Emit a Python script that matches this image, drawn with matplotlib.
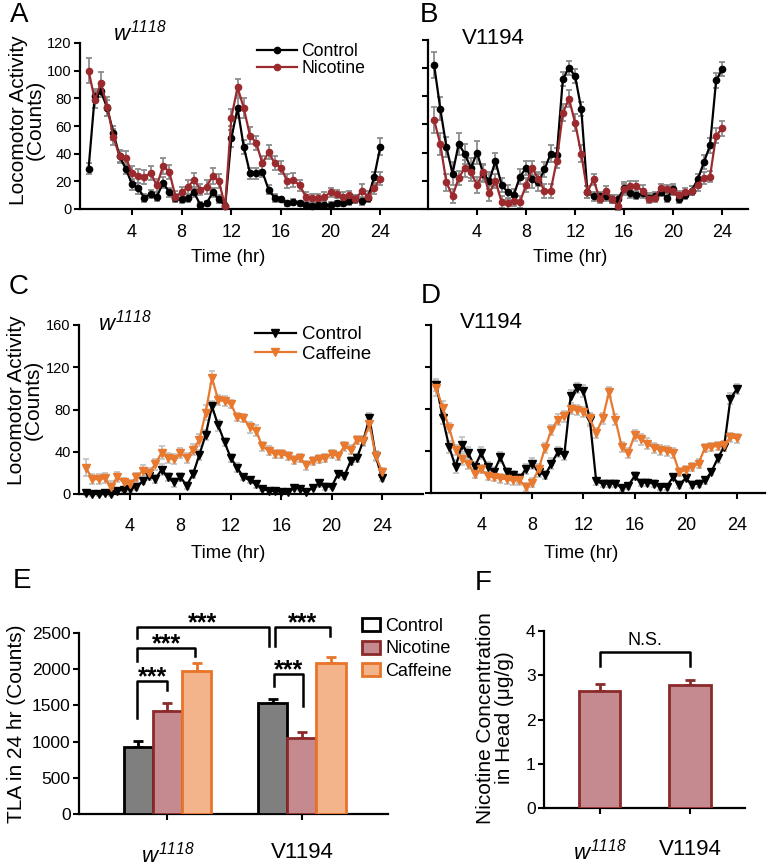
import numpy as np
import matplotlib
matplotlib.use("Agg")
import matplotlib.pyplot as plt
from matplotlib.patches import Patch
from matplotlib.lines import Line2D

plt.rcParams['font.family'] = ['Liberation Sans', 'DejaVu Sans']
plt.rcParams['mathtext.fontset'] = 'custom'
# digits in mathtext are drawn with "rm", so make it italic too for w^1118
plt.rcParams['mathtext.rm'] = 'Liberation Sans:italic'
plt.rcParams['mathtext.it'] = 'Liberation Sans:italic'

# ---- data: locomotor activity, half-hour bins ----
hours = np.arange(0.5, 24.5, 0.5)

a_ctrl = [29, 82, 85, 73, 55, 38, 29, 18, 15, 8, 11, 9, 19, 12, 8, 7, 8, 12, 3, 4,
          12, 7, 2, 51, 73, 45, 26, 26, 27, 14, 8, 7, 4, 5, 4, 3, 2, 3, 3, 3,
          4, 4, 6, 7, 6, 8, 23, 45]
a_ctrl_err = [4, 5, 4, 6, 5, 4, 4, 4, 4, 3, 3, 3, 4, 3, 3, 3, 3, 3, 2, 2,
              3, 3, 2, 6, 7, 5, 4, 4, 4, 3, 3, 2, 2, 2, 2, 2, 2, 2, 2, 2,
              2, 2, 3, 3, 3, 3, 4, 6]
a_nic = [100, 79, 91, 74, 52, 38, 37, 26, 24, 23, 26, 17, 31, 27, 9, 12, 16, 21, 14, 16,
         24, 20, 2, 66, 88, 73, 53, 48, 33, 41, 33, 30, 20, 21, 17, 9, 8, 8, 9, 12,
         11, 9, 10, 7, 13, 9, 15, 22]
a_nic_err = [9, 6, 8, 7, 6, 5, 5, 5, 5, 5, 5, 5, 6, 5, 4, 4, 5, 5, 4, 5,
             6, 5, 2, 6, 6, 7, 6, 5, 5, 5, 5, 5, 5, 5, 4, 3, 3, 3, 3, 3,
             3, 3, 3, 3, 5, 4, 4, 5]

b_ctrl = [102, 71, 44, 25, 46, 39, 29, 40, 25, 20, 34, 17, 12, 10, 23, 29, 21, 19, 28, 39,
          38, 92, 100, 94, 71, 12, 9, 9, 9, 7, 7, 15, 11, 10, 11, 8, 9, 12, 8, 14,
          7, 10, 13, 21, 33, 45, 91, 99]
b_ctrl_err = [9, 8, 7, 8, 8, 7, 7, 8, 6, 6, 6, 5, 5, 4, 5, 5, 6, 6, 5, 6,
              5, 5, 5, 5, 5, 4, 3, 3, 3, 3, 3, 4, 3, 3, 3, 3, 3, 3, 3, 4,
              3, 3, 3, 4, 5, 5, 5, 5]
b_nic = [63, 46, 19, 9, 22, 29, 26, 17, 26, 11, 20, 5, 4, 6, 5, 17, 29, 21, 13, 13,
         34, 68, 78, 61, 39, 12, 21, 7, 13, 7, 2, 14, 16, 16, 13, 7, 8, 15, 14, 13,
         10, 12, 13, 17, 22, 23, 52, 57]
b_nic_err = [9, 8, 6, 5, 5, 6, 6, 6, 6, 5, 5, 4, 4, 4, 4, 5, 5, 5, 5, 5,
             5, 6, 6, 6, 6, 4, 4, 3, 3, 3, 3, 4, 4, 4, 4, 3, 3, 3, 3, 3,
             3, 3, 3, 4, 4, 4, 5, 5]

c_ctrl = [1, 0, 0, 1, 0, 3, 4, 5, 7, 12, 17, 14, 23, 16, 11, 16, 8, 19, 37, 56,
          83, 65, 49, 34, 25, 16, 13, 9, 5, 3, 3, 2, 2, 6, 5, 2, 6, 10, 7, 7,
          19, 17, 31, 34, 50, 72, 36, 15]
c_ctrl_err = [2, 2, 2, 2, 2, 2, 2, 3, 3, 3, 4, 4, 5, 4, 4, 4, 3, 4, 5, 5,
              5, 5, 4, 4, 4, 3, 3, 3, 2, 2, 2, 2, 2, 2, 2, 2, 2, 3, 3, 2,
              3, 3, 4, 4, 5, 5, 5, 3]
c_caff = [25, 14, 14, 15, 7, 16, 11, 9, 16, 22, 20, 28, 39, 34, 33, 39, 34, 42, 51, 77,
          110, 89, 88, 85, 73, 72, 63, 60, 45, 41, 38, 38, 36, 32, 34, 27, 31, 33, 34, 38,
          36, 45, 42, 51, 50, 66, 36, 21]
c_caff_err = [8, 5, 5, 5, 5, 5, 4, 4, 4, 5, 5, 5, 6, 5, 5, 5, 5, 5, 6, 7,
              6, 5, 5, 4, 4, 4, 5, 5, 4, 4, 4, 4, 4, 4, 4, 4, 4, 4, 4, 4,
              4, 4, 4, 4, 4, 6, 4, 4]

d_ctrl = [103, 71, 44, 25, 46, 38, 25, 38, 25, 20, 34, 20, 17, 14, 23, 28, 20, 17, 28, 39,
          36, 92, 100, 97, 70, 11, 9, 9, 9, 5, 7, 16, 10, 10, 9, 6, 6, 15, 8, 14,
          8, 9, 12, 20, 33, 44, 90, 99]
d_ctrl_err = [6, 5, 6, 6, 7, 6, 5, 6, 5, 5, 5, 4, 4, 4, 5, 5, 5, 4, 5, 5,
              5, 6, 5, 6, 6, 3, 3, 3, 3, 3, 3, 4, 3, 3, 3, 3, 3, 3, 3, 3,
              3, 3, 3, 3, 4, 4, 5, 5]
d_caff = [100, 81, 62, 41, 32, 28, 18, 23, 16, 15, 14, 13, 12, 12, 6, 10, 23, 43, 60, 70,
          73, 80, 79, 77, 71, 57, 71, 96, 70, 44, 38, 55, 51, 47, 43, 41, 40, 38, 20, 22,
          25, 28, 43, 44, 45, 46, 53, 52]
d_caff_err = [8, 7, 5, 5, 5, 5, 4, 4, 4, 4, 4, 4, 4, 4, 4, 4, 5, 5, 5, 5,
              5, 5, 5, 5, 5, 5, 5, 5, 5, 5, 5, 5, 5, 5, 5, 5, 5, 5, 4, 4,
              4, 4, 4, 4, 4, 4, 4, 4]

# ---- data: total locomotor activity (E) and nicotine in head (F) ----
genotypes = [r'$w^{1118}$', 'V1194']
treatments = ['Control', 'Nicotine', 'Caffeine']
tla_mean = {'Control': [925, 1530], 'Nicotine': [1420, 1055], 'Caffeine': [1970, 2085]}
tla_err = {'Control': [85, 65], 'Nicotine': [115, 75], 'Caffeine': [115, 90]}
nic_conc = [2.65, 2.78]
nic_conc_err = [0.15, 0.11]

BLACK = 'black'
RED = '#9b2a2e'
ORANGE = '#e8792e'
bar_face = {'Control': '#7f7f7f', 'Nicotine': '#c48a8f', 'Caffeine': '#f3b48b'}
bar_edge = {'Control': 'black', 'Nicotine': '#8b2a2a', 'Caffeine': '#e8742a'}

W, H = 768, 866
fig = plt.figure(figsize=(W / 100, H / 100), dpi=100)


def px_axes(left, top, right, bottom):
    return fig.add_axes([left / W, 1 - bottom / H, (right - left) / W, (bottom - top) / H])


def fxy(x, y):
    return (x / W, 1 - y / H)


def style(ax, xpad=6.5, ytick_size=10.5, ylabels=True):
    for s in ['top', 'right']:
        ax.spines[s].set_visible(False)
    for s in ['left', 'bottom']:
        ax.spines[s].set_linewidth(1.6)
    ax.tick_params(direction='out', length=4, width=1.5)
    ax.tick_params(axis='x', labelsize=13, pad=xpad)
    ax.tick_params(axis='y', labelsize=ytick_size, pad=2)
    if not ylabels:
        ax.tick_params(axis='y', labelleft=False)


def activity(ax, y1, e1, y2, e2, c2, marker, ms, ecol):
    ax.errorbar(hours, y1, yerr=e1, fmt='none', ecolor=ecol, elinewidth=1.3,
                capsize=2.5, capthick=1.3, zorder=2, clip_on=False)
    ax.errorbar(hours, y2, yerr=e2, fmt='none', ecolor=ecol, elinewidth=1.3,
                capsize=2.5, capthick=1.3, zorder=2, clip_on=False)
    ax.plot(hours, y1, '-', marker=marker, color=BLACK, lw=1.6, ms=ms, zorder=3, clip_on=False)
    ax.plot(hours, y2, '-', marker=marker, color=c2, lw=1.6, ms=ms, zorder=4, clip_on=False)


# ---- A ----
axA = px_axes(80, 43, 425, 209)
activity(axA, a_ctrl, a_ctrl_err, a_nic, a_nic_err, RED, 'o', 4.5, '#8c8c8c')
axA.set_xlim(-0.19, 27.6)
axA.set_ylim(0, 120)
axA.set_xticks([4, 8, 12, 16, 20, 24])
axA.set_yticks(range(0, 121, 20))
style(axA)
axA.legend(handles=[Line2D([], [], color=BLACK, marker='o', ms=4.5, lw=1.6),
                    Line2D([], [], color=RED, marker='o', ms=4.5, lw=1.6)],
           labels=['Control', 'Nicotine'], loc='upper left', bbox_to_anchor=fxy(257, 43),
           bbox_transform=fig.transFigure, frameon=False, fontsize=12.7, borderpad=0,
           borderaxespad=0, handlelength=2.25, handletextpad=0.25, labelspacing=0.0)

# ---- B ----
axB = px_axes(428, 39.5, 748, 209)
activity(axB, b_ctrl, b_ctrl_err, b_nic, b_nic_err, RED, 'o', 4.5, '#8c8c8c')
axB.set_xlim(0, 26.1)
axB.set_ylim(0, 120)
axB.set_xticks([4, 8, 12, 16, 20, 24])
axB.set_yticks(range(0, 121, 20))
style(axB, ylabels=False)

# ---- C ----
axC = px_axes(79, 325, 423, 494)
activity(axC, c_ctrl, c_ctrl_err, c_caff, c_caff_err, ORANGE, 'v', 6, '#c4c4c4')
axC.set_xlim(-0.05, 27.25)
axC.set_ylim(0, 160)
axC.set_xticks([4, 8, 12, 16, 20, 24])
axC.set_yticks(range(0, 161, 40))
style(axC, xpad=13.5)
axC.legend(handles=[Line2D([], [], color=BLACK, marker='v', ms=6, lw=1.6),
                    Line2D([], [], color=ORANGE, marker='v', ms=6, lw=1.6)],
           labels=['Control', 'Caffeine'], loc='upper left', bbox_to_anchor=fxy(255, 326),
           bbox_transform=fig.transFigure, frameon=False, fontsize=13.4, borderpad=0,
           borderaxespad=0, handlelength=2.2, handletextpad=0.3, labelspacing=0.15)

# ---- D ----
axD = px_axes(431, 325, 765, 493)
activity(axD, d_ctrl, d_ctrl_err, d_caff, d_caff_err, ORANGE, 'v', 6, '#c4c4c4')
axD.set_xlim(0.08, 26.2)
axD.set_ylim(0, 160)
axD.set_xticks([4, 8, 12, 16, 20, 24])
axD.set_yticks(range(0, 161, 40))
style(axD, xpad=13.5, ylabels=False)

# ---- E ----
axE = px_axes(79, 633, 388, 814)
group_x = np.arange(len(genotypes))
bw = 0.216
offsets = {'Control': -bw, 'Nicotine': 0.0, 'Caffeine': bw}
for t in treatments:
    xs = group_x + offsets[t]
    axE.bar(xs, tla_mean[t], width=bw, color=bar_face[t], edgecolor=bar_edge[t],
            linewidth=2, zorder=3)
    axE.errorbar(xs, tla_mean[t], yerr=[np.zeros(len(xs)), tla_err[t]], fmt='none',
                 ecolor=bar_edge[t], elinewidth=2, capsize=3.5, capthick=2, zorder=2)
axE.set_xlim(-0.658, 1.64)
axE.set_ylim(0, 2500)
axE.set_yticks(range(0, 2501, 500))
axE.set_xticks(group_x)
axE.set_xticklabels(genotypes)
style(axE, xpad=16)
axE.tick_params(axis='x', labelsize=16)
axE.tick_params(axis='y', labelsize=12.5)
for lab in axE.get_yticklabels():
    lab.set_fontfamily(['Liberation Sans Narrow', 'Liberation Sans'])


def bracket(ax, x1, x2, y1, ytop, y2, label, ty, size=18, weight='bold'):
    ax.plot([x1, x1, x2, x2], [y1, ytop, ytop, y2], color='black', lw=1.8,
            clip_on=False, zorder=5)
    ax.text((x1 + x2) / 2, ty, label, ha='center', va='center', fontsize=size,
            fontweight=weight, clip_on=False)


w_c, w_n, w_f = -bw, 0.0, bw
v_c, v_n, v_f = 1 - bw, 1.0, 1 + bw
bracket(axE, w_c - 0.01, w_n, 1326, 1832, 1717, '***', 1890)
bracket(axE, w_c - 0.01, w_f - 0.01, 2109, 2293, 2187, '***', 2350)
bracket(axE, w_c - 0.01, v_c - 0.03, 2431, 2583, 2316, '***', 2640)
bracket(axE, v_c + 0.015, v_f - 0.005, 2325, 2583, 2454, '***', 2640)
bracket(axE, v_c + 0.005, v_n + 0.01, 1763, 1934, 1487, '***', 1990)

fig.legend(handles=[Patch(facecolor='white', edgecolor='black', lw=2),
                    Patch(facecolor=bar_face['Nicotine'], edgecolor=bar_edge['Nicotine'], lw=2),
                    Patch(facecolor=bar_face['Caffeine'], edgecolor=bar_edge['Caffeine'], lw=2)],
           labels=treatments, loc='upper left', bbox_to_anchor=fxy(362, 618),
           frameon=False, fontsize=13, borderpad=0, borderaxespad=0, handlelength=1.0,
           handleheight=0.75, handletextpad=0.3, labelspacing=0.3)

# ---- F ----
axF = px_axes(544, 631, 745, 808)
axF.bar(group_x, nic_conc, width=0.456, color=bar_face['Nicotine'],
        edgecolor=bar_edge['Nicotine'], linewidth=2, zorder=3)
axF.errorbar(group_x, nic_conc, yerr=[np.zeros(2), nic_conc_err], fmt='none',
             ecolor=bar_edge['Nicotine'], elinewidth=2, capsize=3.5, capthick=2, zorder=2)
axF.set_xlim(-0.62, 1.61)
axF.set_ylim(0, 4)
axF.set_yticks(range(0, 5))
axF.set_xticks(group_x)
axF.set_xticklabels(genotypes)
style(axF, xpad=18)
axF.tick_params(axis='x', labelsize=16)
axF.tick_params(axis='y', labelsize=12.5)
bracket(axF, 0, 1, 3.2, 3.52, 3.2, 'N.S.', 3.78, size=13, weight='normal')

# ---- text: labels, titles, panel letters ----
for lt, (x, y) in zip('ABCDEF', [(19, 15), (429, 15), (19, 287), (431, 296), (22, 581), (483, 583)]):
    fig.text(*fxy(x, y), lt, fontsize=20, ha='center', va='center')

fig.text(*fxy(113, 33), r'$w^{1118}$', fontsize=16, ha='left', va='center')
fig.text(*fxy(462, 39), 'V1194', fontsize=16, ha='left', va='center')
fig.text(*fxy(98, 323), r'$w^{1118}$', fontsize=16, ha='left', va='center')
fig.text(*fxy(460, 322), 'V1194', fontsize=16, ha='left', va='center')

for (x, y) in [(228, 257), (570, 257), (228, 553), (581, 553)]:
    fig.text(*fxy(x, y), 'Time (hr)', fontsize=13.3, ha='center', va='center')

fig.text(*fxy(27, 120), 'Locomotor Activity\n(Counts)', fontsize=15, rotation=90,
         ha='center', va='center', linespacing=0.8)
fig.text(*fxy(25, 400), 'Locomotor Activity\n(Counts)', fontsize=15, rotation=90,
         ha='center', va='center', linespacing=0.8)
fig.text(*fxy(17, 724), 'TLA in 24 hr (Counts)', fontsize=15, rotation=90,
         ha='center', va='center')
fig.text(*fxy(495, 718), 'Nicotine Concentration\nin Head (μg/g)', fontsize=15,
         rotation=90, ha='center', va='center', linespacing=0.95)

fig.savefig('out.png', dpi=100)
